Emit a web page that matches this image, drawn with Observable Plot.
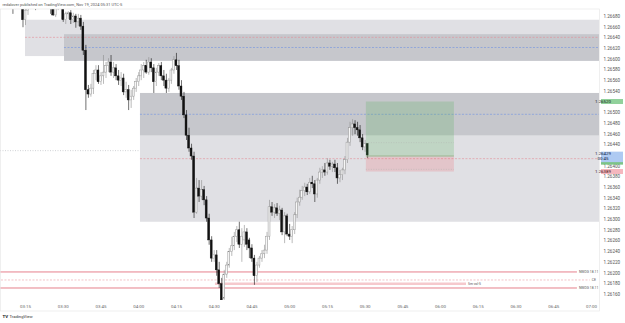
<!DOCTYPE html>
<html>
<head>
<meta charset="utf-8">
<script src="https://cdn.jsdelivr.net/npm/d3@7"></script>
<script src="https://cdn.jsdelivr.net/npm/@observablehq/plot@0.6"></script>
<style>
html,body{margin:0;padding:0;background:#fff;}
#chart{width:625px;height:323px;overflow:hidden;}
</style>
</head>
<body>
<div id="chart"></div>
<script>
// ---------- data (1-minute candles, first at 03:05) ----------
const firstCandle = "03:05";
const opens = [1.26704,1.26701,1.26703,1.26704,1.26703,1.26701,1.26697,1.26703,1.26701,1.26699,
 1.26673,1.26691,1.26697,1.26701,1.26699,1.26695,1.26701,1.26703,1.26701,1.26699,
 1.26701,1.26697,1.26682,1.26695,1.26701,1.26699,1.26673,1.26684,1.26686,1.26673,
 1.26680,1.26669,1.26676,1.26661,1.26616,1.26542,1.26534,1.26545,1.26572,1.26579,
 1.26557,1.26568,1.26575,1.26587,1.26594,1.26575,1.26583,1.26568,1.26560,1.26564,
 1.26538,1.26542,1.26523,1.26530,1.26545,1.26557,1.26568,1.26579,1.26587,1.26575,
 1.26594,1.26583,1.26557,1.26575,1.26587,1.26568,1.26560,1.26545,1.26560,1.26579,
 1.26598,1.26587,1.26549,1.26530,1.26495,1.26457,1.26433,1.26418,1.26313,1.26358,
 1.26343,1.26355,1.26336,1.26302,1.26261,1.26227,1.26233,1.26205,1.26179,1.26152,
 1.26197,1.26214,1.26239,1.26250,1.26268,1.26280,1.26253,1.26261,1.26276,1.26261,
 1.26246,1.26227,1.26194,1.26214,1.26227,1.26235,1.26242,1.26268,1.26323,1.26313,
 1.26321,1.26311,1.26317,1.26276,1.26306,1.26272,1.26268,1.26280,1.26308,1.26332,
 1.26341,1.26353,1.26360,1.26351,1.26369,1.26366,1.26347,1.26373,1.26388,1.26392,
 1.26388,1.26405,1.26399,1.26403,1.26396,1.26377,1.26383,1.26392,1.26411,1.26444,
 1.26471,1.26478,1.26471,1.26467,1.26452,1.26435,1.26441];
const highs = [1.26710,1.26706,1.26708,1.26710,1.26708,1.26704,1.26704,1.26708,1.26706,1.26703,
 1.26701,1.26701,1.26706,1.26706,1.26704,1.26704,1.26706,1.26708,1.26706,1.26704,
 1.26704,1.26701,1.26699,1.26704,1.26706,1.26704,1.26688,1.26689,1.26691,1.26686,
 1.26684,1.26684,1.26682,1.26669,1.26626,1.26551,1.26553,1.26579,1.26588,1.26588,
 1.26575,1.26607,1.26594,1.26601,1.26607,1.26594,1.26590,1.26579,1.26575,1.26572,
 1.26557,1.26551,1.26542,1.26549,1.26564,1.26575,1.26590,1.26594,1.26598,1.26603,
 1.26601,1.26590,1.26583,1.26592,1.26594,1.26579,1.26572,1.26564,1.26583,1.26605,
 1.26611,1.26598,1.26560,1.26538,1.26504,1.26471,1.26441,1.26426,1.26377,1.26373,
 1.26373,1.26362,1.26343,1.26310,1.26268,1.26242,1.26242,1.26220,1.26190,1.26205,
 1.26220,1.26246,1.26267,1.26276,1.26287,1.26295,1.26283,1.26289,1.26283,1.26265,
 1.26253,1.26233,1.26220,1.26231,1.26242,1.26252,1.26276,1.26336,1.26332,1.26328,
 1.26330,1.26325,1.26321,1.26313,1.26310,1.26291,1.26287,1.26313,1.26340,1.26355,
 1.26362,1.26368,1.26366,1.26377,1.26381,1.26373,1.26377,1.26396,1.26399,1.26405,
 1.26414,1.26411,1.26407,1.26411,1.26405,1.26392,1.26396,1.26418,1.26452,1.26482,
 1.26487,1.26485,1.26482,1.26476,1.26459,1.26448,1.26442];
const lows = [1.26697,1.26695,1.26697,1.26699,1.26695,1.26684,1.26693,1.26697,1.26695,1.26659,
 1.26663,1.26682,1.26693,1.26695,1.26691,1.26693,1.26695,1.26697,1.26695,1.26693,
 1.26684,1.26680,1.26678,1.26691,1.26693,1.26669,1.26665,1.26674,1.26665,1.26667,
 1.26658,1.26661,1.26654,1.26607,1.26504,1.26527,1.26529,1.26534,1.26560,1.26553,
 1.26551,1.26553,1.26564,1.26575,1.26568,1.26564,1.26560,1.26551,1.26549,1.26532,
 1.26527,1.26504,1.26508,1.26523,1.26538,1.26549,1.26560,1.26564,1.26572,1.26570,
 1.26575,1.26536,1.26549,1.26568,1.26560,1.26549,1.26536,1.26538,1.26553,1.26572,
 1.26579,1.26542,1.26523,1.26489,1.26448,1.26426,1.26411,1.26302,1.26310,1.26332,
 1.26336,1.26326,1.26295,1.26252,1.26220,1.26220,1.26194,1.26171,1.26139,1.26149,
 1.26190,1.26209,1.26231,1.26242,1.26257,1.26246,1.26220,1.26248,1.26242,1.26227,
 1.26220,1.26177,1.26182,1.26209,1.26220,1.26227,1.26235,1.26261,1.26306,1.26302,
 1.26306,1.26298,1.26270,1.26255,1.26268,1.26261,1.26255,1.26272,1.26302,1.26325,
 1.26336,1.26343,1.26345,1.26347,1.26358,1.26332,1.26340,1.26366,1.26377,1.26381,
 1.26383,1.26392,1.26388,1.26388,1.26366,1.26369,1.26373,1.26384,1.26405,1.26437,
 1.26456,1.26459,1.26456,1.26444,1.26429,1.26426,1.26414];
const closes = [1.26701,1.26703,1.26704,1.26703,1.26701,1.26697,1.26703,1.26701,1.26699,1.26673,
 1.26691,1.26697,1.26701,1.26699,1.26695,1.26701,1.26703,1.26701,1.26699,1.26701,
 1.26695,1.26682,1.26695,1.26701,1.26699,1.26673,1.26684,1.26686,1.26673,1.26680,
 1.26669,1.26676,1.26661,1.26616,1.26542,1.26534,1.26545,1.26572,1.26579,1.26557,
 1.26568,1.26575,1.26587,1.26594,1.26575,1.26583,1.26568,1.26560,1.26564,1.26538,
 1.26542,1.26523,1.26530,1.26545,1.26557,1.26568,1.26579,1.26587,1.26575,1.26594,
 1.26583,1.26557,1.26575,1.26587,1.26568,1.26560,1.26545,1.26560,1.26579,1.26598,
 1.26587,1.26549,1.26530,1.26495,1.26457,1.26433,1.26418,1.26313,1.26358,1.26343,
 1.26355,1.26336,1.26302,1.26261,1.26227,1.26233,1.26205,1.26179,1.26149,1.26197,
 1.26214,1.26239,1.26250,1.26268,1.26280,1.26253,1.26268,1.26276,1.26253,1.26246,
 1.26227,1.26194,1.26214,1.26227,1.26235,1.26242,1.26268,1.26323,1.26313,1.26321,
 1.26311,1.26317,1.26276,1.26306,1.26272,1.26268,1.26280,1.26308,1.26332,1.26341,
 1.26353,1.26360,1.26351,1.26369,1.26366,1.26347,1.26373,1.26388,1.26392,1.26388,
 1.26405,1.26399,1.26403,1.26396,1.26377,1.26383,1.26392,1.26411,1.26444,1.26471,
 1.26478,1.26471,1.26467,1.26452,1.26435,1.26441,1.26420];

// axis ticks (1.26420 and 1.26520 sit under the price badges)
const xTickLabels = ["03:15","03:30","03:45","04:00","04:15","04:30","04:45","05:00",
 "05:15","05:30","05:45","06:00","06:15","06:30","06:45","07:00"];
const yTickValues = [1.26160,1.26180,1.26200,1.26220,1.26240,1.26260,1.26280,1.26300,1.26320,
 1.26340,1.26360,1.26380,1.26400,1.26440,1.26460,1.26480,1.26500,1.26540,
 1.26560,1.26580,1.26600,1.26620,1.26640,1.26660,1.26680];
const viewStart = "03:05.06", viewEnd = "07:03.17";
const priceMin = 1.261486, priceMax = 1.266931;

// zones
const zoneStarts = ["03:15","03:30.5","04:00.7","04:00.7"];
const zoneTops = [1.26673,1.26646,1.26536,1.26456];
const zoneBottoms = [1.26605,1.26596,1.26456,1.26295];
const zoneFills = ["#e0e0e4","#c6c7cc","#c6c7cc","#e0e0e4"];
const zoneLineStarts = ["03:15","03:30.5","04:00.7","04:00.7"];
const zoneLinePrices = [1.26641,1.26622,1.26497,1.26414];
const zoneLineColors = ["#e28b95","#6f92e2","#6f92e2","#e28b95"];

// long position tool
const posStart = "05:30.5", posEnd = "06:05.5";
const posTarget = 1.26520, posEntry = 1.26419, posStop = 1.26389;
const posInnerLines = [1.26444, 1.26394];
const lastPrice = 1.26429, countdown = "00:45";

// levels near the lows
const levelNames = ["NWOG 18.11","CE","NWOG 18.11"];
const levelPrices = [1.26202,1.26187,1.26172];
const levelEnds = ["06:54.4","06:59.5","06:54.4"];
const levelDashed = [false,true,false];
const volLabel = "5m vol-5", volPrice = 1.26180, volStart = "04:30.5", volEnd = "06:10.3";

const header = "redalover published on TradingView.com, Nov 19, 2024 05:31 UTC-5";

// ---------- build ----------
const toMin = s => { const [h, m] = s.split(":"); return +h * 60 + +m; };
const t0 = toMin(firstCandle);
const candles = opens.map((o, i) => ({t: t0 + i, o, h: highs[i], l: lows[i], c: closes[i], up: closes[i] >= o}));
const farRight = toMin(viewEnd) + 2;
const zones = zoneStarts.map((s, i) => ({x1: toMin(s), x2: farRight, y1: zoneTops[i], y2: zoneBottoms[i], fill: zoneFills[i]}));
const zoneLines = zoneLineStarts.map((s, i) => ({x1: toMin(s), x2: farRight, y: zoneLinePrices[i], stroke: zoneLineColors[i]}));
const levels = levelNames.map((n, i) => ({name: n, y: levelPrices[i], x1: toMin(viewStart) - 1, x2: toMin(levelEnds[i]), dashed: levelDashed[i]}));
const posBoxes = [
  {x1: toMin(posStart), x2: toMin(posEnd), y1: posEntry, y2: posTarget, fill: "rgba(76,175,80,0.22)"},
  {x1: toMin(posStart), x2: toMin(posEnd), y1: posStop, y2: posEntry, fill: "rgba(242,54,69,0.16)"}
];
const xTicks = xTickLabels.map(toMin);
const xLabelOf = new Map(xTicks.map((m, i) => [m, xTickLabels[i]]));

const font = "Roboto, 'Noto Sans', sans-serif";

const chart = Plot.plot({
  width: 625, height: 323,
  marginTop: 9, marginBottom: 23, marginLeft: 0, marginRight: 26,
  x: {domain: [toMin(viewStart), toMin(viewEnd)], axis: null},
  y: {domain: [priceMin, priceMax], axis: null},
  color: {type: "identity"},
  style: {background: "#fff", fontFamily: font, overflow: "visible"},
  marks: [
    Plot.ruleY([lastPrice], {x1: toMin(viewStart), x2: farRight, stroke: "#a0a4ab", strokeDasharray: "1,1.5", strokeWidth: 0.5, clip: true}),
    Plot.rect(zones, {x1: "x1", x2: "x2", y1: "y1", y2: "y2", fill: "fill", clip: true}),
    Plot.ruleY(zoneLines, {x1: "x1", x2: "x2", y: "y", stroke: "stroke", strokeDasharray: "2,1.5", strokeWidth: 0.6, clip: true}),
    // levels
    Plot.ruleY([volPrice], {x1: toMin(volStart), x2: toMin(volEnd), stroke: "#f6c9cd", strokeWidth: 2.4}),
    Plot.ruleY(levels.filter(d => !d.dashed), {x1: "x1", x2: "x2", y: "y", stroke: "#e0606e", strokeWidth: 0.8, clip: true}),
    Plot.ruleY(levels.filter(d => d.dashed), {x1: "x1", x2: "x2", y: "y", stroke: "#ea9aa3", strokeWidth: 0.6, strokeDasharray: "2,1.5", clip: true}),
    // candles
    Plot.ruleX(candles, {x: "t", y1: "l", y2: "h", stroke: d => d.up ? "#8d8d8d" : "#111", strokeWidth: 0.6, clip: true}),
    Plot.rect(candles, {x1: d => d.t - 0.38, x2: d => d.t + 0.38, y1: "o", y2: "c",
      fill: d => d.up ? "#f7f7f7" : "#111", stroke: d => d.up ? "#8d8d8d" : "#111", strokeWidth: 0.45, clip: true}),
    // position tool
    Plot.rect(posBoxes, {x1: "x1", x2: "x2", y1: "y1", y2: "y2", fill: "fill"}),
    Plot.ruleY([posEntry], {x1: toMin(posStart), x2: toMin(posEnd), stroke: "#6fb879", strokeWidth: 0.7}),
    Plot.ruleY(posInnerLines, {x1: toMin(posStart), x2: toMin(posEnd), stroke: "#b0b4b0", strokeWidth: 0.5, strokeDasharray: "1,1.5"}),
    // level labels
    Plot.text(levels, {x: "x2", y: "y", text: "name", dx: 1.5, textAnchor: "start", fontSize: 3.4, fill: "#555"}),
    Plot.text([volLabel], {x: toMin(volEnd), y: volPrice, text: d => d, dx: 1.5, textAnchor: "start", fontSize: 3.4, fill: "#555"}),
    // axes
    Plot.axisY(yTickValues, {anchor: "right", tickSize: 0, tickPadding: 4, fontSize: 4.6, fill: "#555", tickFormat: d3.format(".5f")}),
    Plot.axisX(xTicks, {anchor: "bottom", tickSize: 0, tickPadding: 4, fontSize: 4.4, fill: "#666", tickFormat: d => xLabelOf.get(d)}),
    // header & footer
    Plot.text([header], {frameAnchor: "top-left", text: d => d, dx: 2, dy: -4.5, lineAnchor: "middle", textAnchor: "start", fontSize: 4.0, fill: "#555"}),
    Plot.text(["TradingView"], {frameAnchor: "bottom-left", text: d => d, dx: 9, dy: 16, lineAnchor: "middle", textAnchor: "start", fontSize: 4.2, fill: "#333"}),
    Plot.text(["TV"], {frameAnchor: "bottom-left", text: d => d, dx: 2, dy: 16, lineAnchor: "middle", textAnchor: "start", fontSize: 4.4, fontWeight: "bold", fill: "#131722"})
  ]
});

// frame borders and right-axis price badges, placed with the chart's own scales
const svg = d3.select(chart);
const xs = chart.scale("x"), ys = chart.scale("y");
const xL = xs.apply(toMin(viewStart)), xR = xs.apply(toMin(viewEnd));
const yT = ys.apply(priceMax), yB = ys.apply(priceMin);
svg.append("rect").attr("x", xL + 0.3).attr("y", yT).attr("width", xR - xL).attr("height", yB - yT + 11)
  .attr("fill", "none").attr("stroke", "#e4e4e4").attr("stroke-width", 0.6);

const fmt = d3.format(".5f");
const badges = [
  // entry badge: pushed under the current-price badge, only a green strip shows
  {text: [], y: ys.apply(lastPrice) + 11.5, h: 3, fill: "#7cc487", color: "#102010"},
  {text: [fmt(posTarget)], y: ys.apply(posTarget) - 2.5, h: 5, fill: "#91d19b", color: "#102010"},
  {text: [fmt(lastPrice), countdown], y: ys.apply(lastPrice) + 1.5, h: 10.5, fill: "#aecaf2", color: "#102040"},
  {text: [fmt(posStop)], y: ys.apply(posStop) - 2.5, h: 5, fill: "#f5b7be", color: "#401015"}
];
badges.forEach(b => {
  svg.append("rect").attr("x", xR + 2).attr("y", b.y).attr("width", 22).attr("height", b.h).attr("fill", b.fill);
  b.text.forEach((t, k) => {
    svg.append("text").attr("x", xR + 4).attr("y", b.y + 2.6 + k * 4.6).attr("dominant-baseline", "middle")
      .attr("font-size", 4.4).attr("font-family", font).attr("fill", b.color).text(t);
  });
});

document.getElementById("chart").appendChild(chart);
</script>
</body>
</html>
